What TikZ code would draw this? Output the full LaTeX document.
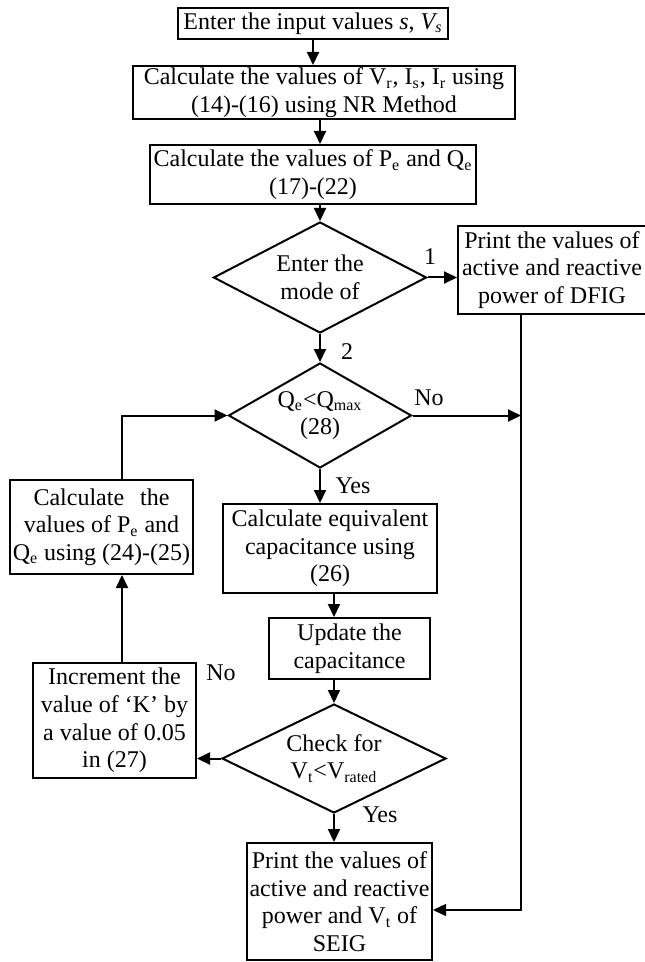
\documentclass[tikz,border=0pt]{standalone}
\usepackage{fontspec}
\setmainfont{Liberation Serif}
\usepackage{tikz}
\usetikzlibrary{shapes.geometric,arrows.meta,positioning}

\begin{document}
\begin{tikzpicture}[x=0.5pt,y=-0.5pt,
    every node/.style={font=\fontsize{12}{13.8}\selectfont},
    procbox/.style={draw,line width=1pt,align=center,inner sep=1pt},
    decbox/.style={draw,diamond,line width=1pt,align=center,inner sep=0pt,aspect=2},
    flow/.style={line width=1pt,-{Triangle[length=6.5pt,width=6pt]}},
    lbl/.style={inner sep=0pt}]
  \useasboundingbox (0,0) rectangle (644,962);
  \node[procbox,minimum width=135pt,minimum height=15.5pt] (input) at (313,23.5) {Enter the input values \textit{s}, \textit{V\textsubscript{s}}};
  \node[procbox,minimum width=191pt,minimum height=26.5pt,inner ysep=0pt] (nr) at (324,92.5) {Calculate the values of V\textsubscript{r}, I\textsubscript{s}, I\textsubscript{r} using\\(14)-(16) using NR Method};
  \node[procbox,minimum width=163pt,minimum height=29.5pt] (pq) at (313,174.5) {Calculate the values of P\textsubscript{e} and Q\textsubscript{e}\\(17)-(22)};
  \node[decbox,minimum width=106.5pt,minimum height=55.5pt] (mode) at (320,277.5) {Enter the\\mode of};
  \node[procbox,minimum width=94pt,minimum height=44pt] (dfig) at (552,270) {Print the values of\\active and reactive\\power of DFIG};
  \node[decbox,aspect=1.7,minimum width=91.5pt,minimum height=52.5pt] (qmax) at (320,415.5) {Q\textsubscript{e}<Q\textsubscript{max}\\(28)};
  \node[procbox,minimum width=91.5pt,minimum height=47pt] (pqnew) at (101.5,527) {Calculate\hspace{8pt}the\\values of P\textsubscript{e} and\\Q\textsubscript{e} using (24)-(25)};
  \node[procbox,minimum width=107pt,minimum height=44.5pt] (cap) at (330,548.5) {Calculate equivalent\\capacitance using\\(26)};
  \node[procbox,minimum width=80.5pt,minimum height=30.5pt] (update) at (349.5,648.5) {Update the\\capacitance};
  \node[decbox,minimum width=112pt,minimum height=54.5pt] (vrated) at (334,758.5) {Check for\\V\textsubscript{t}<V\textsubscript{rated}};
  \node[procbox,minimum width=81.5pt,minimum height=57.5pt] (incr) at (114.5,720.5) {Increment the\\value of `K' by\\a value of 0.05\\in (27)};
  \node[procbox,minimum width=92.5pt,minimum height=58.5pt] (seig) at (339.5,901.5) {Print the values of\\active and reactive\\power and V\textsubscript{t} of\\SEIG};
  \coordinate (loop) at (122,415.5);
  \coordinate (back) at (521,910);
  % main column
  \draw[flow] (input.south) -- (input.south |- nr.north);
  \draw[flow] (nr.south -| mode) -- (pq.north -| mode);
  \draw[flow] (pq.south -| mode) -- (mode.north);
  \draw[flow] (mode.east) -- (mode.east -| dfig.west);
  \draw[flow] (mode.south) -- (qmax.north);
  \draw[flow] (qmax.south) -- (qmax.south |- cap.north);
  \draw[flow] (cap.south -| vrated) -- (update.north -| vrated);
  \draw[flow] (update.south -| vrated) -- (vrated.north);
  \draw[flow] (vrated.south) -- (vrated.south |- seig.north);
  % loop on the left
  \draw[flow] (vrated.west) -- (vrated.west -| incr.east);
  \draw[flow] (incr.north -| loop) -- (pqnew.south -| loop);
  \draw[flow] (pqnew.north -| loop) -- (loop) -- (qmax.west);
  % return on the right
  \draw[flow] (qmax.east) -- (qmax.east -| back);
  \draw[flow,line width=0.7pt] (dfig.south -| back) -- (back) -- (back -| seig.east);
  \node[lbl] (one) at (430,257) {1};
  \node[lbl] (two) at (347,352) {2};
  \node[lbl] (noq) at (429,398) {No};
  \node[lbl] (yesq) at (353,486) {Yes};
  \node[lbl] (nov) at (221,673) {No};
  \node[lbl] (yesv) at (380,815) {Yes};
\end{tikzpicture}
\end{document}
